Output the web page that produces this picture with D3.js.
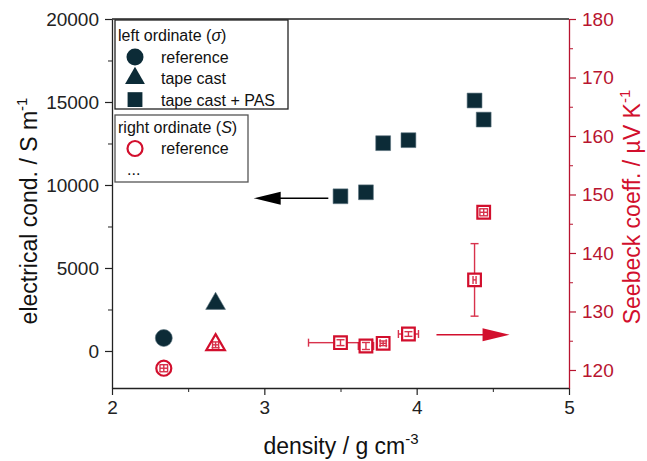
<!DOCTYPE html>
<html>
<head>
<meta charset="utf-8">
<script src="https://cdn.jsdelivr.net/npm/d3@7"></script>
<style>
  body { margin: 0; background: #fff; }
  text { font-family: Arial, "Liberation Sans", sans-serif; }
</style>
</head>
<body>
<div id="chart"></div>
<script>
// data
const groups = ["reference", "tape cast", "tape cast + PAS"];
const sigDensity = [2.34, 2.68, 3.50, 3.667, 3.78, 3.946, 4.38, 4.44];
const sigValue   = [780, 2850, 9320, 9560, 12520, 12700, 15090, 13940];
const sigGroup   = [0, 1, 2, 2, 2, 2, 2, 2];

const seeDensity = [2.34, 2.68, 3.50, 3.667, 3.78, 3.946, 4.38, 4.44];
const seeValue   = [120.3, 124.3, 124.67, 124.1, 124.56, 126.15, 135.4, 146.96];
const seeXErr    = [0.025, 0.02, 0.21, 0.05, 0.02, 0.066, 0.01, 0.025];
const seeYErr    = [0.6, 0.5, 0.5, 0.6, 0.4, 0.4, 6.2, 0.6];
const seeGroup   = [0, 1, 2, 2, 2, 2, 2, 2];

const xTicks = [2, 3, 4, 5];
const leftTicks = [0, 5000, 10000, 15000, 20000];
const rightTicks = [120, 130, 140, 150, 160, 170, 180];

// annotation arrows (data coords)
const arrowSigX = [3.42, 2.93], arrowSigY = 9200;
const arrowSeeX = [4.13, 4.61], arrowSeeY = 126.03;

const W = 647, H = 461;
const dark = "#0c2b37", red = "#d20f2d", redAxis = "#b8142f";

const svg = d3.select("#chart").append("svg")
  .attr("width", W).attr("height", H);

const x = d3.scaleLinear().domain([2, 5]).range([112, 569]);
const yL = d3.scaleLinear().domain([-2230, 20000]).range([388, 19]);
const yR = d3.scaleLinear().domain([116.92, 180]).range([388, 19]);

// frame: top line
svg.append("line").attr("x1", 112).attr("x2", 569).attr("y1", 19).attr("y2", 19)
  .attr("stroke", "#222").attr("stroke-width", 1.3);

function styleAxis(g, color) {
  g.select(".domain").attr("stroke", color).attr("stroke-width", 1.3);
  g.selectAll(".tick line").attr("stroke", color).attr("stroke-width", 1.2);
  g.selectAll(".tick text").attr("fill", color)
    .style("font-size", "19px").style("font-family", "Arial, 'Liberation Sans', sans-serif");
}

// minor ticks
svg.append("g").attr("transform", "translate(0,388)")
  .call(d3.axisBottom(x).tickValues([2.5, 3.5, 4.5]).tickSize(4).tickFormat(""))
  .call(g => { g.select(".domain").remove(); g.selectAll("line").attr("stroke", "#222"); });
svg.append("g").attr("transform", "translate(112,0)")
  .call(d3.axisLeft(yL).tickValues([2500, 7500, 12500, 17500]).tickSize(4).tickFormat(""))
  .call(g => { g.select(".domain").remove(); g.selectAll("line").attr("stroke", "#222"); });
svg.append("g").attr("transform", "translate(569,0)")
  .call(d3.axisRight(yR).tickValues([125, 135, 145, 155, 165, 175]).tickSize(4).tickFormat(""))
  .call(g => { g.select(".domain").remove(); g.selectAll("line").attr("stroke", redAxis); });

svg.append("g").attr("transform", "translate(0,388)")
  .call(d3.axisBottom(x).tickValues(xTicks).tickSize(7).tickSizeOuter(0).tickPadding(6).tickFormat(d3.format("d")))
  .call(g => styleAxis(g, "#222"));

svg.append("g").attr("transform", "translate(112,0)")
  .call(d3.axisLeft(yL).tickValues(leftTicks).tickSize(7).tickSizeOuter(0).tickPadding(6).tickFormat(d3.format("d")))
  .call(g => styleAxis(g, "#222"));

svg.append("g").attr("transform", "translate(569,0)")
  .call(d3.axisRight(yR).tickValues(rightTicks).tickSize(7).tickSizeOuter(0).tickPadding(6).tickFormat(d3.format("d")))
  .call(g => styleAxis(g, redAxis));

// axis titles
const xt = svg.append("text").attr("x", 341).attr("y", 454).attr("text-anchor", "middle")
  .style("font-size", "23px").attr("fill", "#111");
xt.append("tspan").text("density / g cm");
xt.append("tspan").attr("dy", -10).style("font-size", "15px").text("-3");

const ylt = svg.append("text").attr("transform", "translate(37,211) rotate(-90)")
  .attr("text-anchor", "middle").style("font-size", "23px").attr("fill", "#111");
ylt.append("tspan").text("electrical cond. / S m");
ylt.append("tspan").attr("dy", -10).style("font-size", "15px").text("-1");

const yrt = svg.append("text").attr("transform", "translate(640,207) rotate(-90)")
  .attr("text-anchor", "middle").style("font-size", "23px").attr("fill", red);
yrt.append("tspan").text("Seebeck coeff. / µV K");
yrt.append("tspan").attr("dy", -10).style("font-size", "15px").text("-1");

// symbol shapes
const symTypes = [d3.symbolCircle, d3.symbolTriangle, d3.symbolSquare];
const darkSizes = [227, 170, 220];
const redSizes = [177, 150, 160];

// arrows
function arrow(xs, yv, yscale, color) {
  const x0 = x(xs[0]), x1 = x(xs[1]), yy = yscale(yv);
  const dir = Math.sign(x1 - x0);
  svg.append("line").attr("x1", x0).attr("x2", x1 - dir * 20).attr("y1", yy).attr("y2", yy)
    .attr("stroke", color).attr("stroke-width", 1.6);
  svg.append("path")
    .attr("d", `M${x1},${yy} L${x1 - dir * 27},${yy - 6.5} L${x1 - dir * 27},${yy + 6.5} Z`)
    .attr("fill", color);
}
arrow(arrowSigX, arrowSigY, yL, "#000");
arrow(arrowSeeX, arrowSeeY, yR, red);

// sigma points
svg.append("g").selectAll("path")
  .data(sigDensity.map((d, i) => ({ d, v: sigValue[i], g: sigGroup[i] })))
  .join("path")
  .attr("transform", p => `translate(${x(p.d)},${yL(p.v)})`)
  .attr("d", p => d3.symbol(symTypes[p.g], darkSizes[p.g])())
  .attr("fill", dark).attr("stroke", "#5c7480").attr("stroke-width", 0.6);

// seebeck points with error bars
const half = [7.5, 7.5, 6.5];
const seeG = svg.append("g");
seeDensity.forEach((d, i) => {
  const cx = x(d), cy = yR(seeValue[i]), g = seeGroup[i];
  const h = half[g];
  const yTop = yR(seeValue[i] + seeYErr[i]), yBot = yR(seeValue[i] - seeYErr[i]);
  const xLeft = x(d - seeXErr[i]), xRight = x(d + seeXErr[i]);
  seeG.append("path")
    .attr("transform", `translate(${cx},${cy})`)
    .attr("d", d3.symbol(symTypes[g], redSizes[g])())
    .attr("fill", "#fff").attr("stroke", red).attr("stroke-width", 2.2);
  const eb = seeG.append("g").attr("stroke", red).attr("stroke-width", 1.4).attr("opacity", 0.85);
  const seg = (x1, y1, x2, y2) => eb.append("line").attr("x1", x1).attr("y1", y1).attr("x2", x2).attr("y2", y2);
  // vertical
  if (cy - yTop > h) { seg(cx, yTop, cx, cy - h); seg(cx, cy + h, cx, yBot); }
  else seg(cx, yTop, cx, yBot);
  seg(cx - 4, yTop, cx + 4, yTop); seg(cx - 4, yBot, cx + 4, yBot);
  // horizontal
  if (cx - xLeft > h) { seg(xLeft, cy, cx - h, cy); seg(cx + h, cy, xRight, cy); }
  else seg(xLeft, cy, xRight, cy);
  seg(xLeft, cy - 4, xLeft, cy + 4); seg(xRight, cy - 4, xRight, cy + 4);
});

// legend 1
const leg1 = svg.append("g");
leg1.append("rect").attr("x", 115).attr("y", 20).attr("width", 173).attr("height", 89)
  .attr("fill", "#fff").attr("stroke", "#222").attr("stroke-width", 1.3);
const l1t = leg1.append("text").attr("x", 118).attr("y", 41).style("font-size", "16px").attr("fill", "#111");
l1t.append("tspan").text("left ordinate (");
l1t.append("tspan").style("font-style", "italic").text("σ");
l1t.append("tspan").text(")");
groups.forEach((name, i) => {
  const yy = 57 + i * 21.3;
  leg1.append("path").attr("transform", `translate(135,${yy})`)
    .attr("d", d3.symbol(symTypes[i], darkSizes[i])()).attr("fill", dark);
  leg1.append("text").attr("x", 161).attr("y", yy + 6).style("font-size", "16px").attr("fill", "#111").text(name);
});

// legend 2
const leg2 = svg.append("g");
leg2.append("rect").attr("x", 115).attr("y", 115).attr("width", 133).attr("height", 67)
  .attr("fill", "#fff").attr("stroke", "#555").attr("stroke-width", 1.3);
const l2t = leg2.append("text").attr("x", 118).attr("y", 133).style("font-size", "16px").attr("fill", "#111");
l2t.append("tspan").text("right ordinate (");
l2t.append("tspan").style("font-style", "italic").text("S");
l2t.append("tspan").text(")");
leg2.append("path").attr("transform", "translate(135,148.5)")
  .attr("d", d3.symbol(d3.symbolCircle, redSizes[0])()).attr("fill", "#fff").attr("stroke", red).attr("stroke-width", 2.2);
leg2.append("text").attr("x", 161).attr("y", 154).style("font-size", "16px").attr("fill", "#111").text("reference");
leg2.append("text").attr("x", 127).attr("y", 175).style("font-size", "16px").attr("fill", "#111").text("...");
</script>
</body>
</html>
